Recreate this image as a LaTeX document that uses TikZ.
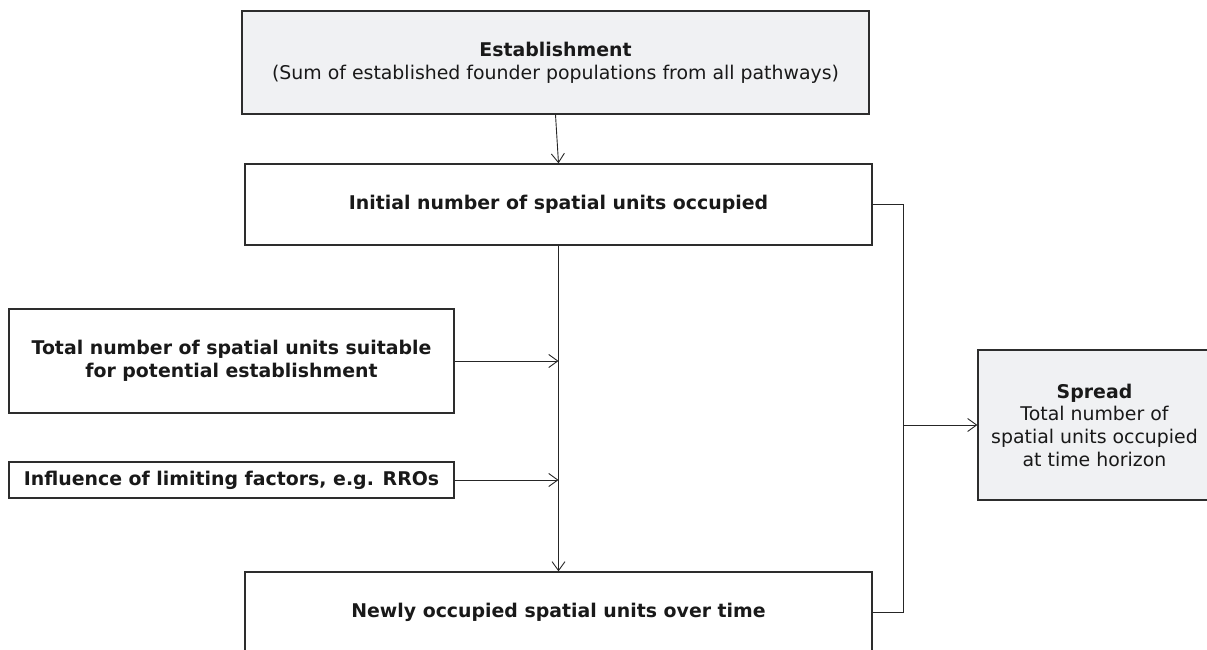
\documentclass[tikz,border=0pt]{standalone}
\usepackage{fontspec}
\setmainfont{DejaVu Sans}
\usetikzlibrary{arrows.meta}
\definecolor{boxfill}{RGB}{240,241,243}
\definecolor{edge}{RGB}{45,45,45}
\tikzset{
  box/.style={draw=edge, line width=1.3pt, align=center, inner sep=0pt,
    font=\fontsize{18.9pt}{22.7pt}\selectfont, text=black!90},
  graybox/.style={box, fill=boxfill},
  conn/.style={draw=black!85, line width=0.9pt},
  arr/.style={conn, -{Straight Barb[length=9pt,width=13pt,line width=0.9pt]}}
}
\begin{document}
\begin{tikzpicture}[x=1pt,y=-1pt]
\useasboundingbox (0,0) rectangle (1207,650);
\clip (0,0) rectangle (1207,650);
\node[graybox, minimum width=627pt, minimum height=103pt] (est) at (555.5,62.5)
  {\textbf{Establishment}\\(Sum of established founder populations from all pathways)};
\node[box, minimum width=627pt, minimum height=81pt] (init) at (558.5,204.5)
  {\textbf{Initial number of spatial units occupied}};
\node[box, minimum width=445pt, minimum height=104pt] (total) at (231.5,361)
  {\textbf{Total number of spatial units suitable}\\\textbf{for potential establishment}};
\node[box, minimum width=445pt, minimum height=36pt] (infl) at (231.5,480)
  {\textbf{Influence of limiting factors, e.g. RROs}};
\node[box, minimum width=627pt, minimum height=80pt] (new) at (558.5,612)
  {\textbf{Newly occupied spatial units over time}};
\node[graybox, minimum width=233pt, minimum height=150pt] (spread) at (1094.5,425)
  {\textbf{Spread}\\Total number of\\spatial units occupied\\at time horizon};
\coordinate (j1) at (init.south |- total.east);
\coordinate (j2) at (init.south |- infl.east);
\coordinate (rb) at (903,204.5);
\coordinate (rm) at (903,425);
\draw[arr] (est.south) -- (init.north);
\draw[arr] (init.south) -- (new.north);
\draw[arr] (total.east) -- (j1);
\draw[arr] (infl.east) -- (j2);
\draw[conn] (init.east) -- (rb) |- (new.east);
\draw[arr] (rm) -- (spread.west);
\end{tikzpicture}
\end{document}
